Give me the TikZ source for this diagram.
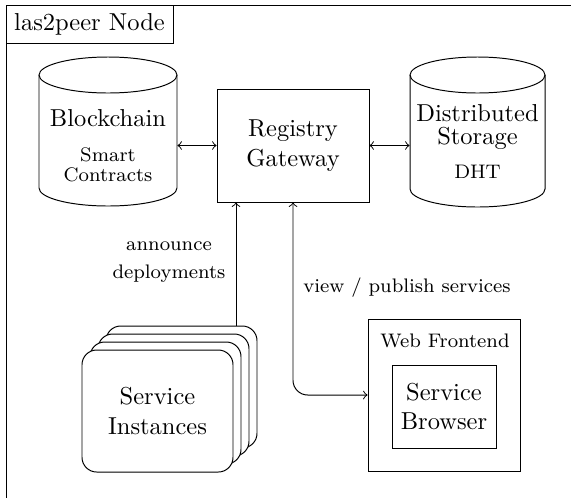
\documentclass[tikz,border=0pt]{standalone}
\usetikzlibrary{fit}
\begin{document}
\begin{tikzpicture}[x=0.4082pt, y=-0.4082pt,
  box/.style={draw, inner sep=0pt},
  area/.style={inner sep=0pt},
  lbl/.style={align=center, inner sep=0pt},
  small/.style={font=\footnotesize},
  inst/.style={draw, fill=white, rounded corners=6pt, inner sep=0pt},
  link/.style={<->},
  feed/.style={->}]

\useasboundingbox (0,0) rectangle (571,497);

% outer frame of the node (runs off the page on the right and bottom)
\begin{scope}
  \clip (0,0) rectangle (571,497);
  \draw (6,5) rectangle (600,530);
\end{scope}
\node[box, fit={(6,5) (173,43)}] (title) {};
\node[lbl] at (title.center) {las2peer Node};

% blockchain cylinder
\draw[fill=white] (39,75) -- (39,188)
  arc[start angle=180, end angle=0, x radius=69, y radius=18] -- (177,75);
\draw (108,75) ellipse [x radius=69, y radius=18];
\node[area, fit={(39,57) (177,206)}] (bc) {};
\node[lbl] at (108,118) {Blockchain};
\node[lbl, small] at (108,165) {Smart\\[-1.3pt]Contracts};

% distributed storage cylinder
\draw[fill=white] (410,75) -- (410,189)
  arc[start angle=180, end angle=0, x radius=67.5, y radius=18] -- (545,75);
\draw (477.5,75) ellipse [x radius=67.5, y radius=18];
\node[area, fit={(410,57) (545,207)}] (ds) {};
\node[lbl] at (477.5,127) {Distributed\\[-2.5pt]Storage};
\node[lbl, small] at (477.5,171.5) {DHT};

% registry gateway
\node[box, fit={(217,89) (369,202)}] (gw) {};
\node[lbl] at (gw.center) {Registry\\Gateway};

\draw[link] (gw.west -| bc.east) -- (gw.west);
\draw[link] (gw.east) -- (gw.east -| ds.west);

% stacked service instances
\node[inst, fit={(106,326) (257,448)}] (si3) {};
\node[inst, fit={(98,334) (249,456)}] (si2) {};
\node[inst, fit={(90,342) (241,464)}] (si1) {};
\node[inst, fit={(82,350) (233,472)}] (si0) {};
\node[lbl] at (si0.center) {Service\\Instances};

% web frontend with service browser
\node[box, fit={(368,319) (520,471)}] (wf) {};
\node[lbl, small] at (445,341) {Web Frontend};
\node[box, fit={(392,365) (496,448)}] (sb) {};
\node[lbl] at (sb.center) {Service\\Browser};

% connectors from below
\coordinate (annx) at (236,0);
\coordinate (viewx) at (293,0);
\draw[feed] (si3.north -| annx) -- (gw.south -| annx);
\node[lbl, small] at (169,262) {announce\\[2pt]deployments};
\draw[link, rounded corners=6pt] (gw.south -| viewx) |- (wf.west);
\node[lbl, small] at (407,288) {view / publish services};

\end{tikzpicture}
\end{document}
